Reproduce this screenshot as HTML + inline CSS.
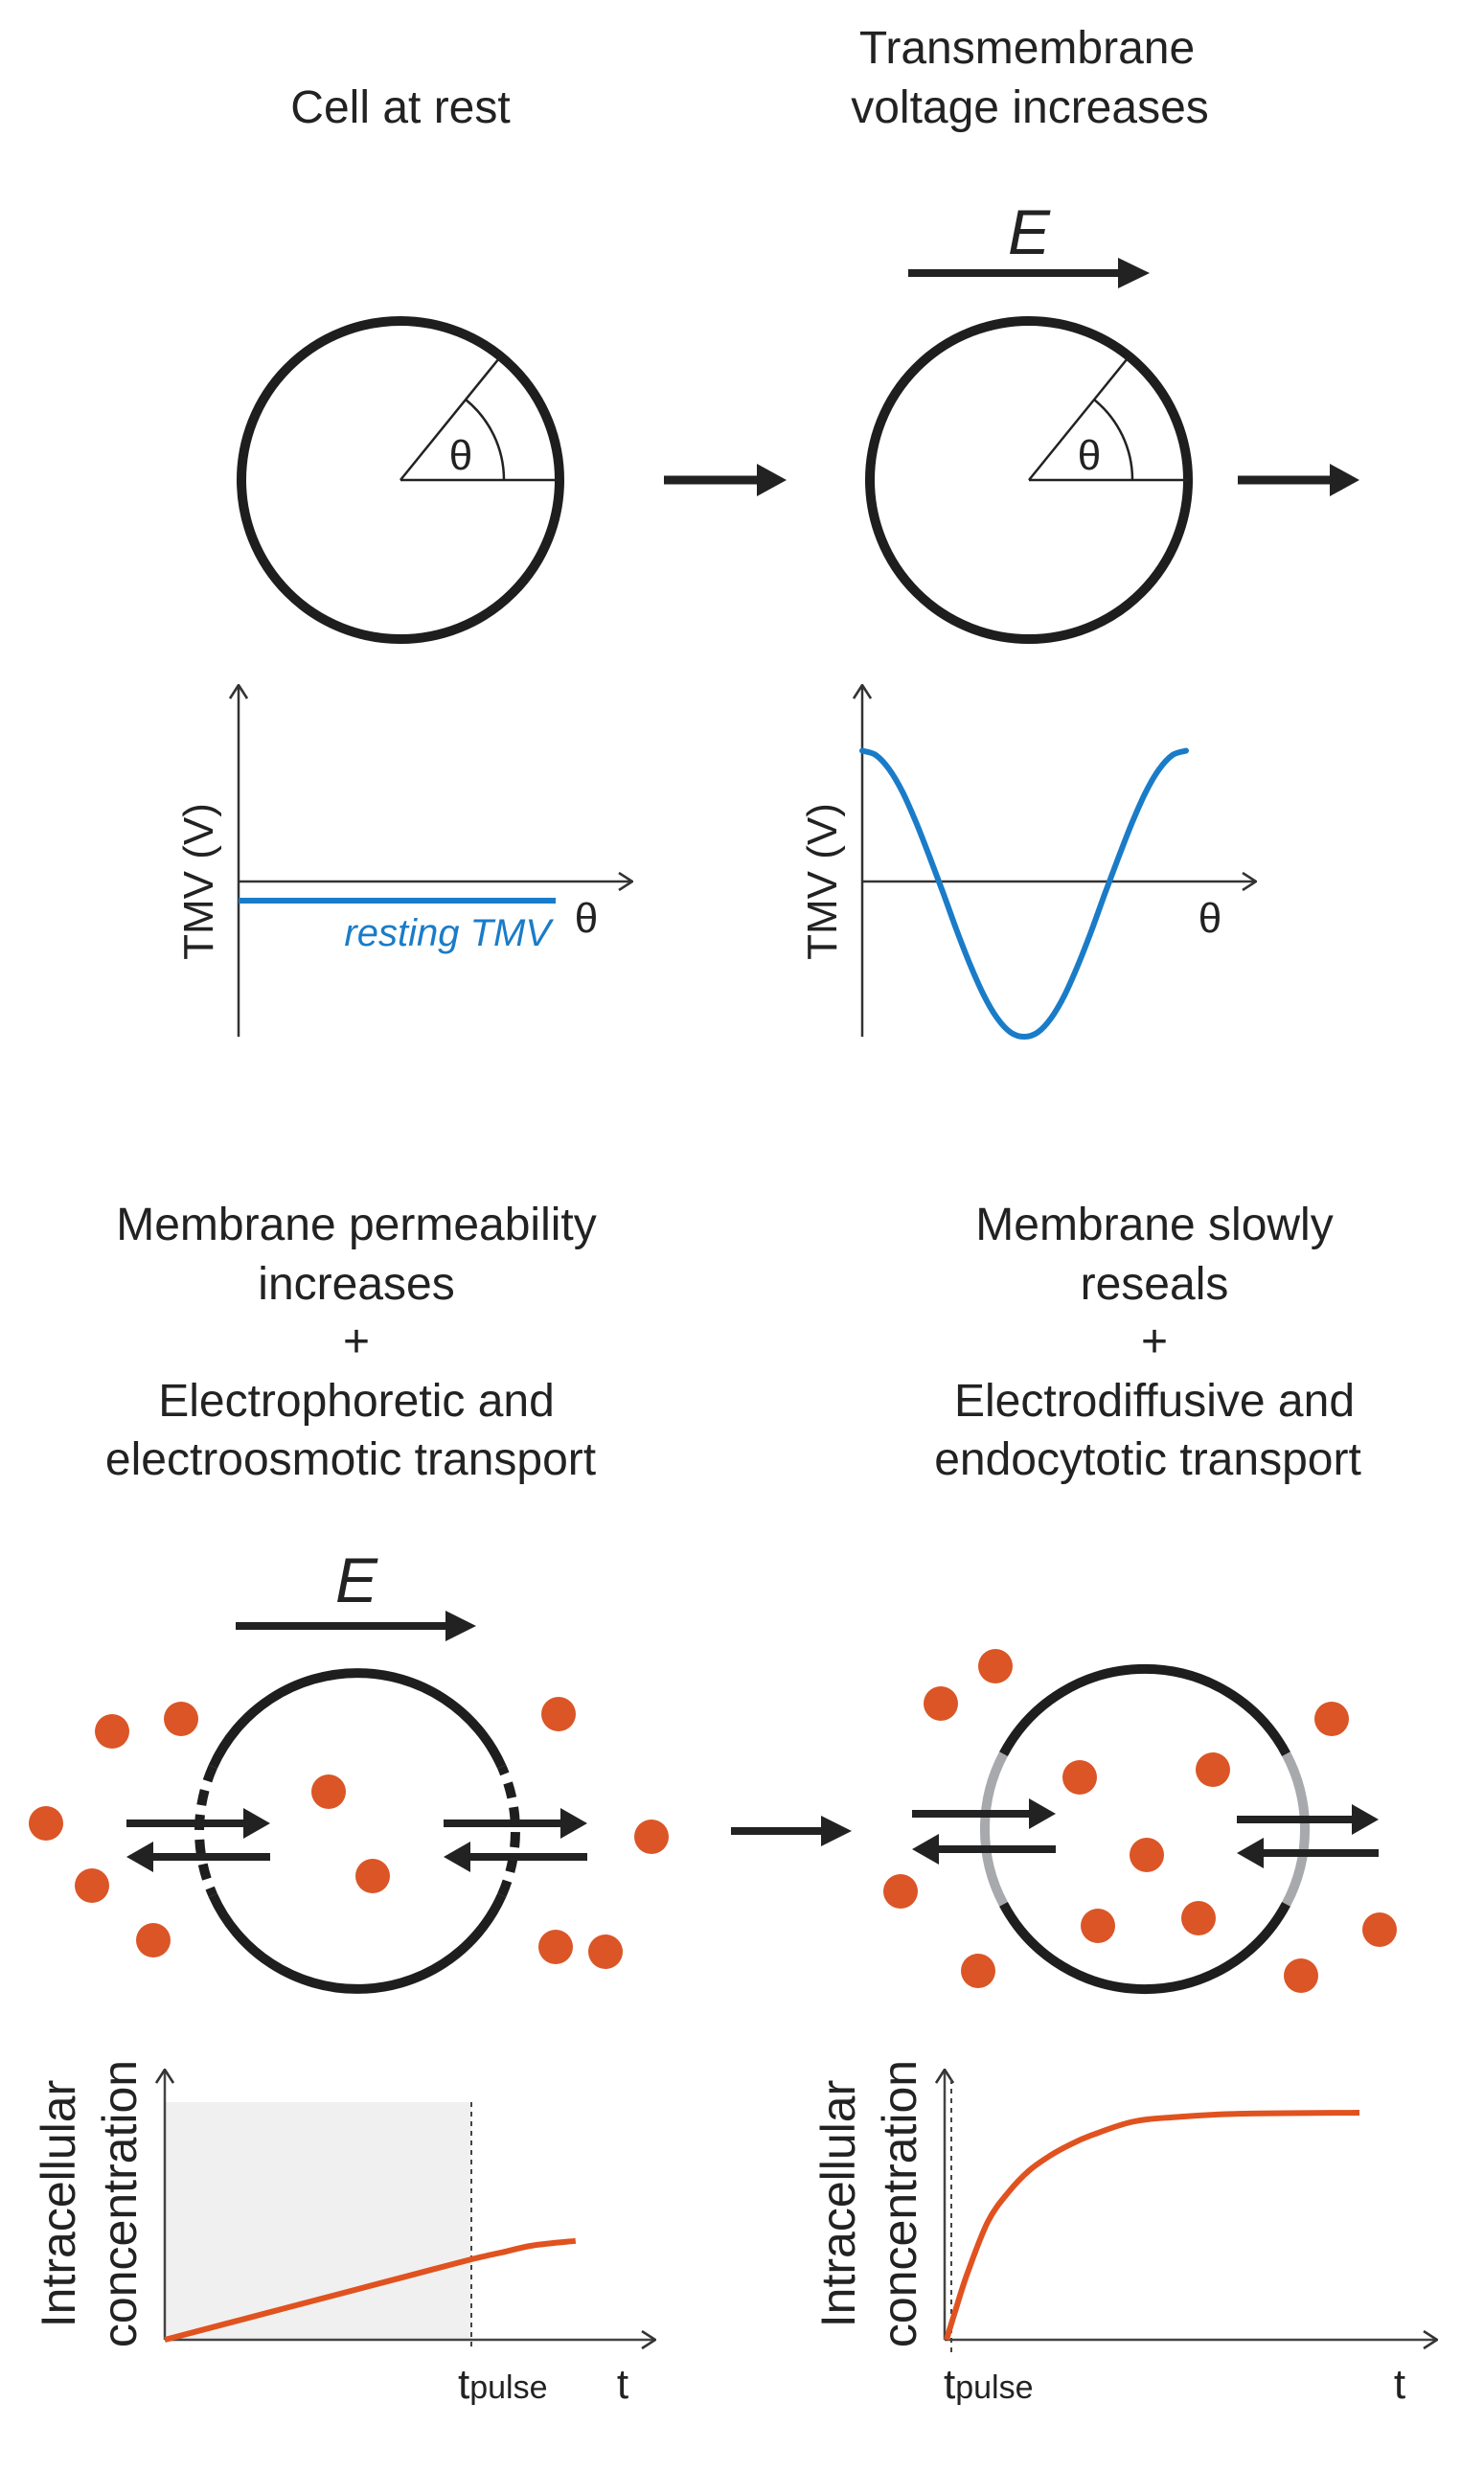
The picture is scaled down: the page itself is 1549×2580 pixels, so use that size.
<!DOCTYPE html>
<html><head><meta charset="utf-8"><style>
html,body{margin:0;padding:0;background:#fff;}
svg{display:block;font-family:"Liberation Sans",sans-serif;}
</style></head><body>
<svg id="fig" width="1549" height="2580" viewBox="0 0 1549 2580">
<defs>
<marker id="ah" viewBox="0 0 16 20" refX="15" refY="10" markerWidth="16" markerHeight="20" markerUnits="userSpaceOnUse" orient="auto"><path d="M1,1 L15,10 L1,19" fill="none" stroke="#333" stroke-width="2.6"/></marker>
</defs>
<g fill="#222" font-size="48" text-anchor="middle">
<text x="418" y="128">Cell at rest</text>
<text x="1072" y="66">Transmembrane</text>
<text x="1075" y="128">voltage increases</text>
</g>
<g>
<circle cx="418" cy="501" r="166" fill="none" stroke="#1e1e1e" stroke-width="10"/>
<line x1="418" y1="501" x2="584" y2="501" stroke="#222" stroke-width="2.5"/>
<line x1="418" y1="501" x2="521" y2="374" stroke="#222" stroke-width="2.5"/>
<path d="M526,501 A108,108 0 0 0 486,417" fill="none" stroke="#222" stroke-width="2.5"/>
<text x="481" y="490" font-size="44" text-anchor="middle" fill="#222">θ</text>
</g>
<g><line x1="693" y1="501" x2="795" y2="501" stroke="#222" stroke-width="9"/><path d="M790,484 L821,501 L790,518 Z" fill="#222"/></g>
<g>
<circle cx="1074" cy="501" r="166" fill="none" stroke="#1e1e1e" stroke-width="10"/>
<line x1="1074" y1="501" x2="1240" y2="501" stroke="#222" stroke-width="2.5"/>
<line x1="1074" y1="501" x2="1177" y2="374" stroke="#222" stroke-width="2.5"/>
<path d="M1182,501 A108,108 0 0 0 1142,417" fill="none" stroke="#222" stroke-width="2.5"/>
<text x="1137" y="490" font-size="44" text-anchor="middle" fill="#222">θ</text>
</g>
<g><line x1="948" y1="285" x2="1172" y2="285" stroke="#222" stroke-width="8"/><path d="M1167,269 L1200,285 L1167,301 Z" fill="#222"/>
<text x="1074" y="265" font-size="66" font-style="italic" text-anchor="middle" fill="#222">E</text></g>
<g><line x1="1292" y1="501" x2="1393" y2="501" stroke="#222" stroke-width="9"/><path d="M1388,484 L1419,501 L1388,518 Z" fill="#222"/></g>

<g id="plotA">
<line x1="249" y1="1082" x2="249" y2="715" stroke="#333" stroke-width="2.5" marker-end="url(#ah)"/>
<line x1="249" y1="920" x2="660" y2="920" stroke="#333" stroke-width="2.5" marker-end="url(#ah)"/>
<text transform="translate(222,920) rotate(-90)" font-size="44" text-anchor="middle" fill="#222">TMV (V)</text>
<line x1="249" y1="940" x2="580" y2="940" stroke="#1a7cc8" stroke-width="6"/>
<text x="575" y="987" font-size="40" font-style="italic" text-anchor="end" fill="#1a7cc8">resting TMV</text>
<text x="612" y="973" font-size="44" text-anchor="middle" fill="#222">θ</text>
</g>
<g id="plotB">
<line x1="900" y1="1082" x2="900" y2="715" stroke="#333" stroke-width="2.5" marker-end="url(#ah)"/>
<line x1="900" y1="920" x2="1311" y2="920" stroke="#333" stroke-width="2.5" marker-end="url(#ah)"/>
<text transform="translate(873,920) rotate(-90)" font-size="44" text-anchor="middle" fill="#222">TMV (V)</text>
<text x="1263" y="973" font-size="44" text-anchor="middle" fill="#222">θ</text>
</g>

<g fill="#222" font-size="48" text-anchor="middle">
<text x="372" y="1294">Membrane permeability</text>
<text x="372" y="1356">increases</text>
<text x="372" y="1416">+</text>
<text x="372" y="1478">Electrophoretic and</text>
<text x="366" y="1539">electroosmotic transport</text>
<text x="1205" y="1294">Membrane slowly</text>
<text x="1205" y="1356">reseals</text>
<text x="1205" y="1416">+</text>
<text x="1205" y="1478">Electrodiffusive and</text>
<text x="1198" y="1539">endocytotic transport</text>
</g>
<g><line x1="246" y1="1697" x2="470" y2="1697" stroke="#222" stroke-width="8"/><path d="M465,1681 L497,1697 L465,1713 Z" fill="#222"/>
<text x="372" y="1672" font-size="66" font-style="italic" text-anchor="middle" fill="#222">E</text></g>
<g id="cellC"></g>
<g><line x1="763" y1="1911" x2="862" y2="1911" stroke="#222" stroke-width="8"/><path d="M857,1895 L889,1911 L857,1927 Z" fill="#222"/></g>
<g id="cellD"></g>

<g id="plotC">
<rect x="172" y="2194" width="320" height="248" fill="#f0f0f0"/>
<line x1="172" y1="2442" x2="172" y2="2160" stroke="#444" stroke-width="2.5" marker-end="url(#ah)"/>
<line x1="172" y1="2442" x2="684" y2="2442" stroke="#444" stroke-width="2.5" marker-end="url(#ah)"/>
<line x1="492" y1="2194" x2="492" y2="2452" stroke="#444" stroke-width="2" stroke-dasharray="5,5"/>
<text transform="translate(78,2300) rotate(-90)" font-size="50" text-anchor="middle" fill="#222">Intracellular</text>
<text transform="translate(142,2300) rotate(-90)" font-size="50" text-anchor="middle" fill="#222">concentration</text>
<text x="478" y="2503" font-size="44" fill="#222">t<tspan font-size="34">pulse</tspan></text>
<text x="650" y="2503" font-size="44" text-anchor="middle" fill="#222">t</text>
</g>
<g id="plotD">
<line x1="986" y1="2442" x2="986" y2="2160" stroke="#444" stroke-width="2.5" marker-end="url(#ah)"/>
<line x1="986" y1="2442" x2="1500" y2="2442" stroke="#444" stroke-width="2.5" marker-end="url(#ah)"/>
<line x1="993" y1="2170" x2="993" y2="2456" stroke="#444" stroke-width="2" stroke-dasharray="5,5"/>
<text transform="translate(892,2300) rotate(-90)" font-size="50" text-anchor="middle" fill="#222">Intracellular</text>
<text transform="translate(956,2300) rotate(-90)" font-size="50" text-anchor="middle" fill="#222">concentration</text>
<text x="985" y="2503" font-size="44" fill="#222">t<tspan font-size="34">pulse</tspan></text>
<text x="1461" y="2503" font-size="44" text-anchor="middle" fill="#222">t</text>
</g>
</svg>
<script>
// Chart data
var thetaDeg = [0,15,30,45,60,75,90,105,120,135,150,165,180,195,210,225,240,255,270,285,300,315,330,345,360];
var tmvValues = [0.91,0.88,0.78,0.62,0.41,0.17,-0.08,-0.34,-0.58,-0.79,-0.95,-1.05,-1.08,-1.05,-0.95,-0.79,-0.58,-0.34,-0.08,0.17,0.41,0.62,0.78,0.88,0.91];
var tPulseTimes = [0,0.2,0.4,0.6,0.8,1.0,1.1,1.2,1.34];
var concDuring = [0,0.07,0.14,0.21,0.28,0.35,0.38,0.41,0.43];
var tAfterTimes = [0,0.02,0.05,0.1,0.15,0.2,0.25,0.3,0.35,0.45,0.55,0.7,1.0];
var concAfter = [0,0.12,0.29,0.52,0.65,0.745,0.81,0.86,0.9,0.96,0.98,0.995,1.0];
var dotsLeft = [[117,1807],[189,1794],[48,1903],[96,1968],[160,2025],[343,1870],[389,1958],[583,1789],[680,1917],[580,2032],[632,2037]];
var dotsRight = [[982,1778],[1039,1739],[1390,1794],[1127,1855],[1266,1847],[1197,1936],[1146,2010],[1251,2002],[940,1974],[1021,2057],[1358,2062],[1440,2014]];

var NS='http://www.w3.org/2000/svg';
function mk(tag,attrs,parent){var e=document.createElementNS(NS,tag);for(var k in attrs)e.setAttribute(k,attrs[k]);parent.appendChild(e);return e;}
function smooth(pts){ // catmull-rom to bezier
  var d='M'+pts[0][0].toFixed(1)+','+pts[0][1].toFixed(1);
  for(var i=0;i<pts.length-1;i++){
    var p0=pts[Math.max(i-1,0)],p1=pts[i],p2=pts[i+1],p3=pts[Math.min(i+2,pts.length-1)];
    var c1=[p1[0]+(p2[0]-p0[0])/6,p1[1]+(p2[1]-p0[1])/6],c2=[p2[0]-(p3[0]-p1[0])/6,p2[1]-(p3[1]-p1[1])/6];
    d+=' C'+c1[0].toFixed(1)+','+c1[1].toFixed(1)+' '+c2[0].toFixed(1)+','+c2[1].toFixed(1)+' '+p2[0].toFixed(1)+','+p2[1].toFixed(1);
  }
  return d;
}

function xB(d){return 900+d/360*338;}
function yB(v){return 920-v*150;}
var ptsB=thetaDeg.map(function(d,i){return [xB(d),yB(tmvValues[i])];});
var pB=mk('path',{d:smooth(ptsB),fill:'none',stroke:'#1a7cc8','stroke-width':6,'stroke-linecap':'round'},document.getElementById('plotB'));



function xC(t){return 172+t*320;}
function yC(c){return 2442-c*240;}
var ptsC=tPulseTimes.map(function(t,i){return [xC(t),yC(concDuring[i])];});
var pC=mk('path',{d:smooth(ptsC),fill:'none',stroke:'#e0521f','stroke-width':6},document.getElementById('plotC'));



function xD(t){return 988+t*431;}
function yD(c){return 2442-c*237;}
var ptsD=tAfterTimes.map(function(t,i){return [xD(t),yD(concAfter[i])];});
var pD=mk('path',{d:smooth(ptsD),fill:'none',stroke:'#e0521f','stroke-width':6},document.getElementById('plotD'));



function arc(cx,cy,r,a1,a2){
  var p1=[cx+r*Math.cos(a1*Math.PI/180),cy-r*Math.sin(a1*Math.PI/180)];
  var p2=[cx+r*Math.cos(a2*Math.PI/180),cy-r*Math.sin(a2*Math.PI/180)];
  var large=Math.abs(a2-a1)>180?1:0;
  return 'M'+p1[0].toFixed(1)+','+p1[1].toFixed(1)+' A'+r+','+r+' 0 '+large+' 0 '+p2[0].toFixed(1)+','+p2[1].toFixed(1);
}
function arrowPair(g,x1,x2,yTop,yBot){
  mk('line',{x1:x1,y1:yTop,x2:x2-26,y2:yTop,stroke:'#222','stroke-width':8},g);
  mk('path',{d:'M'+(x2-28)+','+(yTop-16)+' L'+x2+','+yTop+' L'+(x2-28)+','+(yTop+16)+' Z',fill:'#222'},g);
  mk('line',{x1:x1+26,y1:yBot,x2:x2,y2:yBot,stroke:'#222','stroke-width':8},g);
  mk('path',{d:'M'+(x1+28)+','+(yBot-16)+' L'+x1+','+yBot+' L'+(x1+28)+','+(yBot+16)+' Z',fill:'#222'},g);
}
var gC=document.getElementById('cellC');
mk('path',{d:arc(373,1911,165,24,156),fill:'none',stroke:'#1e1e1e','stroke-width':10},gC);
mk('path',{d:arc(373,1911,165,204,336),fill:'none',stroke:'#1e1e1e','stroke-width':10},gC);
mk('path',{d:arc(373,1911,165,-24,24),fill:'none',stroke:'#1e1e1e','stroke-width':10,'stroke-dasharray':'16,10'},gC);
mk('path',{d:arc(373,1911,165,156,204),fill:'none',stroke:'#1e1e1e','stroke-width':10,'stroke-dasharray':'16,10'},gC);
arrowPair(gC,132,282,1903,1938);
arrowPair(gC,463,613,1903,1938);
dotsLeft.forEach(function(p){var c=mk('circle',{cx:p[0],cy:p[1],r:18,fill:'#db5526'},gC);

});
var gD=document.getElementById('cellD');
mk('path',{d:arc(1195,1909,167,-28,28),fill:'none',stroke:'#a7a9ac','stroke-width':10},gD);
mk('path',{d:arc(1195,1909,167,152,208),fill:'none',stroke:'#a7a9ac','stroke-width':10},gD);
mk('path',{d:arc(1195,1909,167,28,152),fill:'none',stroke:'#1e1e1e','stroke-width':10},gD);
mk('path',{d:arc(1195,1909,167,208,332),fill:'none',stroke:'#1e1e1e','stroke-width':10},gD);
arrowPair(gD,952,1102,1893,1930);
arrowPair(gD,1291,1439,1899,1934);
dotsRight.forEach(function(p){var c=mk('circle',{cx:p[0],cy:p[1],r:18,fill:'#db5526'},gD);

});
</script>
</body></html>
